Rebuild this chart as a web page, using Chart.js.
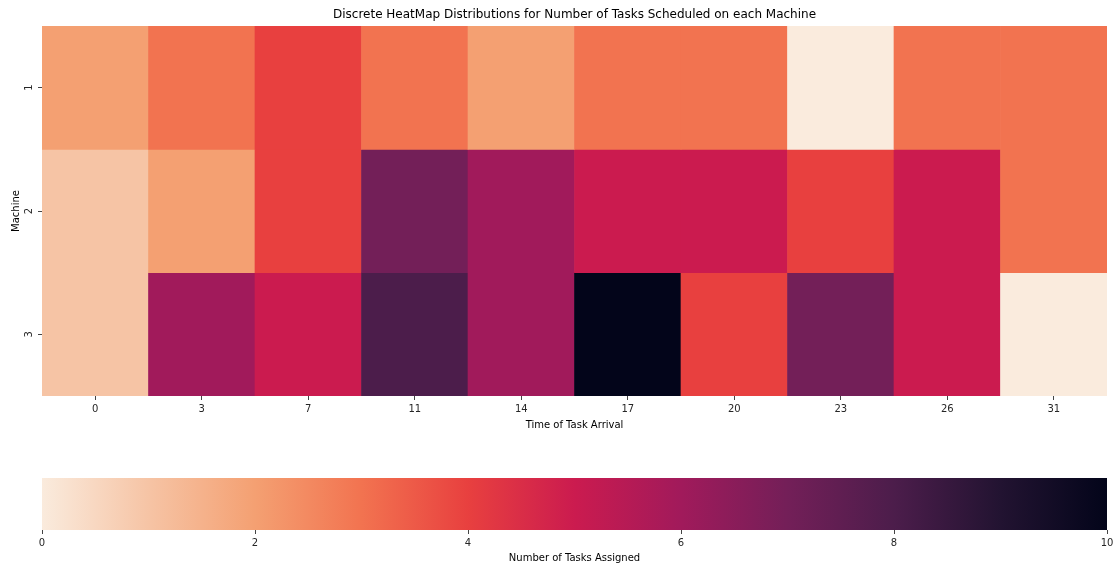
<!DOCTYPE html>
<html>
<head>
<meta charset="utf-8">
<script src="https://cdn.jsdelivr.net/npm/chart.js@4.4.1/dist/chart.umd.min.js"></script>
<style>
  html, body { margin: 0; padding: 0; background: #fff; }
  #wrap { position: relative; width: 1117px; height: 566px; }
  #heat { position: absolute; left: 0; top: 0; }
  #bar { position: absolute; left: 0; top: 450px; }
</style>
</head>
<body>
<div id="wrap">
  <canvas id="heat" width="1117" height="431"></canvas>
  <canvas id="bar" width="1117" height="114"></canvas>
</div>
<script>
// Arrival times (columns) and machines (rows)
const times = ['0', '3', '7', '11', '14', '17', '20', '23', '26', '31'];
const machines = ['1', '2', '3'];

// Number of tasks assigned per machine at each arrival time
const machine1 = [2, 3, 4, 3, 2, 3, 3, 0, 3, 3];
const machine2 = [1, 2, 4, 7, 6, 5, 5, 4, 5, 3];
const machine3 = [1, 6, 5, 8, 6, 10, 4, 7, 5, 0];

// Colour scale bounds and colour-bar ticks
const vmin = 0;
const vmax = 10;
const colorbarTicks = [0, 2, 4, 6, 8, 10];

// Reversed "rocket" palette sampled at integer counts 0..10
const palette = ['#FAEBDD', '#F6C4A5', '#F4A072', '#F27350', '#E8403F', '#CB1B4F',
                 '#A11A5B', '#731F58', '#4C1D4B', '#221331', '#03051A'];

function hexToRgb(h) {
  return [parseInt(h.slice(1, 3), 16), parseInt(h.slice(3, 5), 16), parseInt(h.slice(5, 7), 16)];
}
function colorFor(v) {
  const t = Math.max(0, Math.min(1, (v - vmin) / (vmax - vmin))) * (palette.length - 1);
  const i = Math.min(palette.length - 2, Math.floor(t));
  const f = t - i;
  const a = hexToRgb(palette[i]), b = hexToRgb(palette[i + 1]);
  const c = a.map((x, k) => Math.round(x + (b[k] - x) * f));
  return `rgb(${c[0]},${c[1]},${c[2]})`;
}

Chart.defaults.font.family = "'DejaVu Sans', sans-serif";
Chart.defaults.font.size = 10;
Chart.defaults.color = '#262626';

const rows = [machine1, machine2, machine3];

new Chart(document.getElementById('heat'), {
  type: 'bar',
  data: {
    labels: times,
    datasets: rows.map((vals, r) => ({
      label: 'Machine ' + machines[r],
      data: vals.map(() => [r, r + 1]),
      backgroundColor: vals.map(colorFor),
      borderWidth: 0,
      barPercentage: 1,
      categoryPercentage: 1,
      grouped: false
    }))
  },
  options: {
    responsive: false,
    animation: false,
    layout: { padding: { left: 0, right: 10, top: 0, bottom: 0 } },
    plugins: {
      legend: { display: false },
      tooltip: { enabled: false },
      title: {
        display: true,
        fullSize: false,
        text: 'Discrete HeatMap Distributions for Number of Tasks Scheduled on each Machine',
        color: '#000',
        font: { size: 12, weight: 'normal' },
        padding: { top: 8, bottom: 3.6 }
      }
    },
    scales: {
      x: {
        grid: { offset: false, drawOnChartArea: false, drawTicks: true, tickLength: 4, color: '#444' },
        border: { display: false },
        ticks: { padding: 3, maxRotation: 0, autoSkip: false },
        title: { display: true, text: 'Time of Task Arrival', padding: { top: 1, bottom: 0 }, color: '#000' }
      },
      y: {
        min: 0,
        max: machines.length,
        reverse: true,
        afterBuildTicks: s => { s.ticks = machines.map((m, i) => ({ value: i + 0.5 })); },
        afterFit: s => { s.width = 42; },
        grid: { drawOnChartArea: false, drawTicks: true, tickLength: 4, color: '#444' },
        border: { display: false },
        ticks: {
          minRotation: 90,
          maxRotation: 90,
          crossAlign: 'center',
          padding: 5,
          callback: (v, i) => machines[i]
        },
        title: { display: true, text: 'Machine', padding: { top: 10, bottom: 0 }, color: '#000' }
      }
    }
  }
});

// Paints the continuous colour ramp across the x scale of the colour bar
const colorRamp = {
  id: 'colorRamp',
  beforeDatasetsDraw(chart) {
    const { ctx, chartArea, scales } = chart;
    const x0 = scales.x.getPixelForValue(vmin);
    const x1 = scales.x.getPixelForValue(vmax);
    const g = ctx.createLinearGradient(x0, 0, x1, 0);
    palette.forEach((c, i) => g.addColorStop(i / (palette.length - 1), c));
    ctx.save();
    ctx.fillStyle = g;
    ctx.fillRect(x0, chartArea.top, x1 - x0, chartArea.bottom - chartArea.top);
    ctx.restore();
  }
};

new Chart(document.getElementById('bar'), {
  type: 'scatter',
  data: { datasets: [{ data: [] }] },
  plugins: [colorRamp],
  options: {
    responsive: false,
    animation: false,
    layout: { padding: { left: 42, right: 10, top: 28, bottom: 0 } },
    plugins: { legend: { display: false }, tooltip: { enabled: false } },
    scales: {
      x: {
        type: 'linear',
        min: vmin,
        max: vmax,
        afterBuildTicks: s => { s.ticks = colorbarTicks.map(v => ({ value: v })); },
        grid: { drawOnChartArea: false, drawTicks: true, tickLength: 4, color: '#444' },
        border: { display: false },
        ticks: { padding: 3, maxRotation: 0 },
        title: { display: true, text: 'Number of Tasks Assigned', padding: { top: 0, bottom: 0 }, color: '#000' }
      },
      y: { display: false, min: 0, max: 1 }
    }
  }
});
</script>
</body>
</html>
